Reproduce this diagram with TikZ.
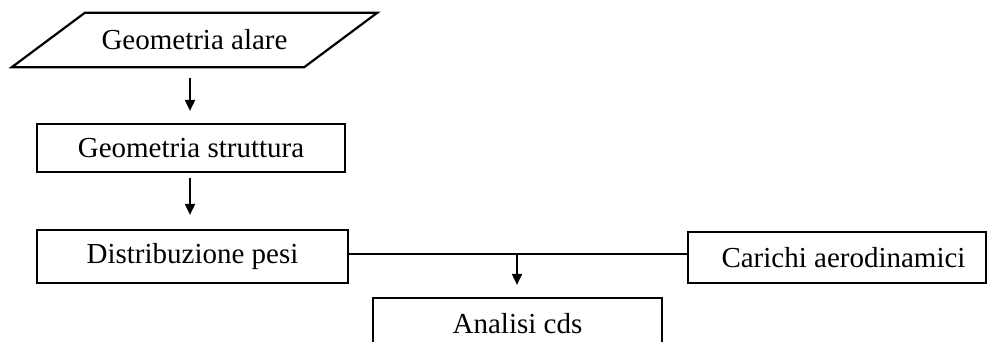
\documentclass[tikz,border=0pt]{standalone}
\usepackage{fontspec}
\setmainfont{Liberation Serif}
\usetikzlibrary{arrows.meta,calc}
\tikzset{
  boxnode/.style={draw, line width=2.2pt, inner sep=0pt, font=\fontsize{29}{33}\selectfont},
  plainnode/.style={inner sep=0pt, font=\fontsize{29}{33}\selectfont},
  arr/.style={line width=1.9pt, -{Triangle[width=10pt,length=11pt]}},
  conn/.style={line width=1.9pt}
}
\begin{document}
\begin{tikzpicture}[x=1pt,y=-1pt]
\useasboundingbox (0,0) rectangle (987,342);
\clip (0,0) rectangle (987,342);
% parallelogram
\node[plainnode, minimum width=292pt, minimum height=54pt] (ga) at (194.5,40) {Geometria alare};
\draw[line width=2.2pt, line join=miter]
  ([xshift=36.5pt]ga.north west) -- ([xshift=36.5pt]ga.north east)
  -- ([xshift=-36.5pt]ga.south east) -- ([xshift=-36.5pt]ga.south west) -- cycle;
\node[boxnode, minimum width=308pt, minimum height=48pt] (gs) at (191,148) {Geometria struttura};
\node[boxnode, minimum width=311pt, minimum height=53pt] (dp) at (192.5,256.5) {Distribuzione pesi};
\node[boxnode, minimum width=298pt, minimum height=51pt] (ca) at (837,257.5) {\hspace*{13pt}Carichi aerodinamici};
\node[boxnode, minimum width=289pt, minimum height=52pt] (ac) at (517.5,324) {Analisi cds};
\coordinate (j) at (517,254);
\draw[arr] ([xshift=-4.5pt,yshift=-11pt]ga.south) -- ([xshift=-1pt,yshift=12pt]gs.north);
\draw[arr] ([xshift=-1pt,yshift=-5pt]gs.south) -- ([xshift=-2.5pt,yshift=14pt]dp.north);
\draw[conn] (j -| dp.east) -- (j -| ca.west);
\draw[arr] (j) -- ([yshift=12pt]ac.north -| j);
\end{tikzpicture}
\end{document}
